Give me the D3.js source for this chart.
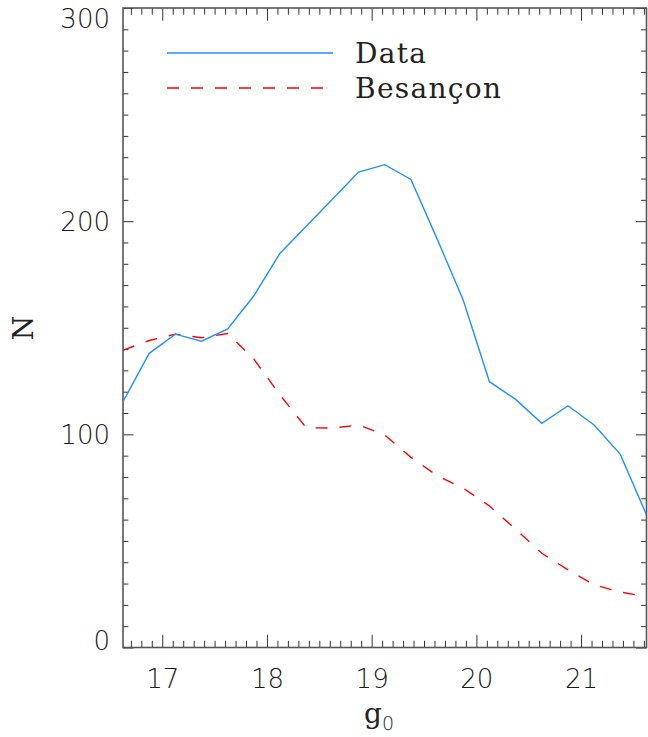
<!DOCTYPE html>
<html>
<head>
<meta charset="utf-8">
<script src="https://cdn.jsdelivr.net/npm/d3@7/dist/d3.min.js"></script>
<style>
  html, body { margin: 0; padding: 0; background: #fff; }
  svg { display: block; }
</style>
</head>
<body>
<div id="chart"></div>
<script>
// ---- data ----
const magBins = [16.625, 16.875, 17.125, 17.375, 17.625, 17.875, 18.125, 18.375, 18.625, 18.875,
                 19.125, 19.375, 19.625, 19.875, 20.125, 20.375, 20.625, 20.875, 21.125, 21.375, 21.625];
const dataCounts = [115.3, 138.0, 147.0, 143.7, 149.5, 165.0, 185.0, 197.6, 210.3, 223.0,
                    226.5, 219.6, 191.7, 162.9, 124.7, 116.4, 105.2, 113.4, 104.4, 90.6, 62.2];
const besanconCounts = [139.5, 144.0, 147.0, 145.3, 147.3, 135.3, 118.4, 103.1, 102.9, 104.4,
                        99.7, 89.2, 80.6, 74.7, 66.4, 55.5, 44.2, 36.4, 29.4, 26.0, 23.9];
const seriesNames = ["Data", "Besançon"];
const xMajorTicks = [17, 18, 19, 20, 21];
const yMajorTicks = [0, 100, 200, 300];
const xDomain = [16.625, 21.625];
const yDomain = [0, 300];

// ---- layout ----
const W = 648, H = 737;
const box = { left: 123, right: 646.5, top: 8, bottom: 647.5 };
const blue = "#1E90FF", red = "#FF0000";

const svg = d3.select("#chart").append("svg").attr("width", W).attr("height", H);

const x = d3.scaleLinear().domain(xDomain).range([box.left, box.right]);
const y = d3.scaleLinear().domain(yDomain).range([box.bottom, box.top]);

const xMinor = d3.range(167, 217).map(v => v / 10).filter(v => v >= xDomain[0] && v <= xDomain[1] && !xMajorTicks.includes(v));
const yMinor = d3.range(0, 301, 10).filter(v => !yMajorTicks.includes(v));

const tickFont = "'DejaVu Sans', sans-serif";
const serifFont = "'DejaVu Serif', serif";

function styleAxis(g) {
  g.select(".domain").remove();
  g.selectAll(".tick line").attr("stroke", "#333").attr("stroke-width", 1);
}

// bottom axis
svg.append("g").attr("transform", `translate(0,${box.bottom})`)
  .call(d3.axisBottom(x).tickValues(xMinor).tickSize(-6.7).tickFormat(""))
  .call(styleAxis);
const xb = svg.append("g").attr("transform", `translate(0,${box.bottom})`)
  .call(d3.axisBottom(x).tickValues(xMajorTicks).tickSize(-12.7).tickFormat(d3.format("d")))
  .call(styleAxis);
xb.selectAll(".tick text").attr("font-family", tickFont).attr("font-size", 26).attr("font-weight", 200)
  .attr("fill", "#1a1a1a").attr("dy", "0.6em").attr("y", 25);

// top axis
svg.append("g").attr("transform", `translate(0,${box.top})`)
  .call(d3.axisTop(x).tickValues(xMinor).tickSize(-6.7).tickFormat(""))
  .call(styleAxis);
svg.append("g").attr("transform", `translate(0,${box.top})`)
  .call(d3.axisTop(x).tickValues(xMajorTicks).tickSize(-12.7).tickFormat(""))
  .call(styleAxis);

// left axis
svg.append("g").attr("transform", `translate(${box.left},0)`)
  .call(d3.axisLeft(y).tickValues(yMinor).tickSize(-5.3).tickFormat(""))
  .call(styleAxis);
const yl = svg.append("g").attr("transform", `translate(${box.left},0)`)
  .call(d3.axisLeft(y).tickValues(yMajorTicks).tickSize(-10.5).tickPadding(13).tickFormat(d3.format("d")))
  .call(styleAxis);
yl.selectAll(".tick text").attr("font-family", tickFont).attr("font-size", 26).attr("font-weight", 200)
  .attr("fill", "#1a1a1a")
  .attr("dy", d => {
    const py = y(d);
    const clamped = Math.max(box.top + 10, Math.min(box.bottom - 8, py));
    return (clamped - py + 9.5) + "px";
  });

// right axis
svg.append("g").attr("transform", `translate(${box.right},0)`)
  .call(d3.axisRight(y).tickValues(yMinor).tickSize(-5.3).tickFormat(""))
  .call(styleAxis);
svg.append("g").attr("transform", `translate(${box.right},0)`)
  .call(d3.axisRight(y).tickValues(yMajorTicks).tickSize(-10.5).tickFormat(""))
  .call(styleAxis);

// frame
svg.append("rect").attr("x", box.left).attr("y", box.top)
  .attr("width", box.right - box.left).attr("height", box.bottom - box.top)
  .attr("fill", "none").attr("stroke", "#555").attr("stroke-width", 1.6);

// lines
svg.append("clipPath").attr("id", "plotclip").append("rect")
  .attr("x", box.left).attr("y", box.top).attr("width", box.right - box.left).attr("height", box.bottom - box.top);

const line = d3.line().x((d, i) => x(magBins[i])).y(d => y(d));

svg.append("path").datum(besanconCounts).attr("d", line)
  .attr("fill", "none").attr("stroke", red).attr("stroke-width", 1.4)
  .attr("stroke-dasharray", "12,12").attr("clip-path", "url(#plotclip)");
svg.append("path").datum(dataCounts).attr("d", line)
  .attr("fill", "none").attr("stroke", blue).attr("stroke-width", 1.4)
  .attr("clip-path", "url(#plotclip)");

// legend
const legend = svg.append("g");
const legendItems = [
  { name: seriesNames[0], color: blue, dash: null, y: 53, x2: 333 },
  { name: seriesNames[1], color: red, dash: "12,12", y: 88, x2: 327 }
];
legendItems.forEach(it => {
  legend.append("line").attr("x1", 167).attr("x2", it.x2).attr("y1", it.y).attr("y2", it.y)
    .attr("stroke", it.color).attr("stroke-width", 1.4).attr("stroke-dasharray", it.dash);
  legend.append("text").attr("x", 355).attr("y", it.y + 10)
    .attr("font-family", serifFont).attr("font-size", 28).attr("fill", "#222")
    .attr("letter-spacing", 1.3).text(it.name);
});

// axis titles
svg.append("text").attr("transform", "translate(33,328) rotate(-90)")
  .attr("text-anchor", "middle").attr("font-family", serifFont).attr("font-size", 28).attr("fill", "#222")
  .text("N");

const xt = svg.append("text").attr("x", 379).attr("y", 723).attr("text-anchor", "middle")
  .attr("font-family", serifFont).attr("font-size", 28).attr("fill", "#222");
xt.append("tspan").text("g");
xt.append("tspan").attr("font-family", tickFont).attr("font-size", 19).attr("font-weight", 200).attr("dy", 7).text("0");
</script>
</body>
</html>
